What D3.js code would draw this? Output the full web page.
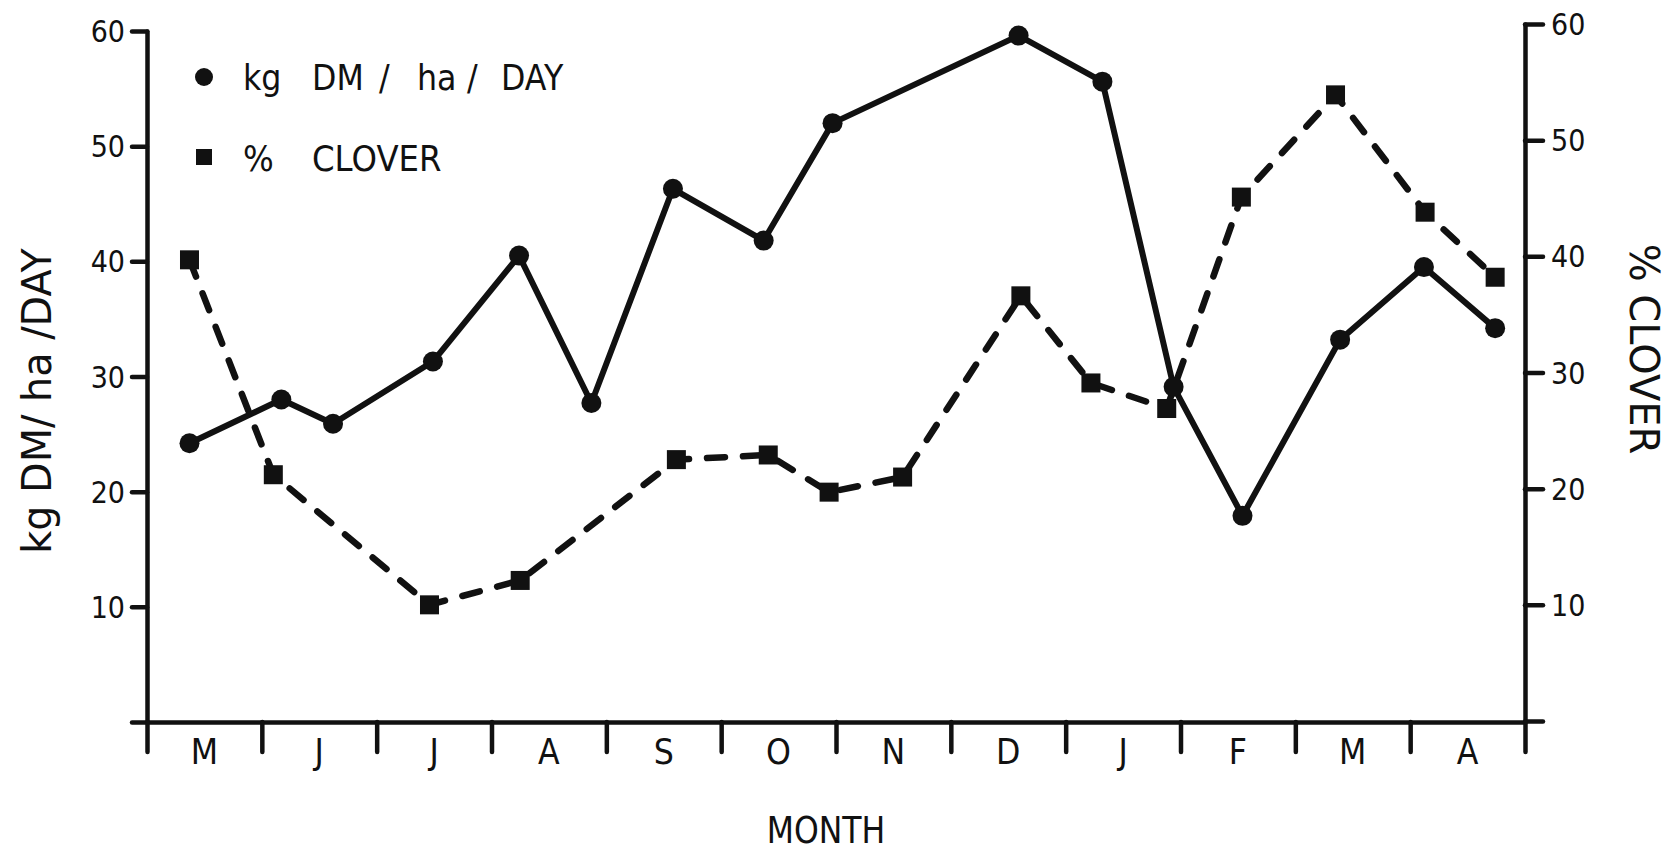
<!DOCTYPE html>
<html>
<head>
<meta charset="utf-8">
<script src="https://cdn.jsdelivr.net/npm/d3@7"></script>
<style>
  html, body { margin: 0; padding: 0; background: #fff; }
  svg { display: block; }
  text { font-family: "DejaVu Sans", sans-serif; fill: #111; }
</style>
</head>
<body>
<svg id="chart" width="1676" height="853"></svg>
<script>
// Month labels along the bottom (May through April)
const months = ["M", "J", "J", "A", "S", "O", "N", "D", "J", "F", "M", "A"];
// Tick values shared by both vertical axes
const yTickValues = [0, 10, 20, 30, 40, 50, 60];

// Pasture growth rate, kg DM / ha / day; dates in months from 1 May
const dmDates  = [0.37, 1.17, 1.62, 2.49, 3.24, 3.87, 4.58, 5.37, 5.97, 7.59, 8.32, 8.94, 9.54, 10.39, 11.12, 11.74];
const dmValues = [24.2, 28.0, 25.9, 31.3, 40.5, 27.7, 46.3, 41.8, 52.0, 59.6, 55.6, 29.1, 17.9, 33.2, 39.5, 34.2];

// Clover content of the sward, %
const cloverDates  = [0.37, 1.10, 2.46, 3.25, 4.61, 5.41, 5.94, 6.58, 7.61, 8.22, 8.88, 9.53, 10.35, 11.13, 11.74];
const cloverValues = [39.7, 21.2, 10.0, 12.1, 22.5, 22.9, 19.7, 21.0, 36.6, 29.1, 26.9, 45.1, 53.9, 43.8, 38.2];

const ink = "#111";
const svg = d3.select("#chart");

const x  = d3.scaleLinear().domain([0, 12]).range([147, 1525]);
const yL = d3.scaleLinear().domain([0, 60]).range([722, 31]);
const yR = d3.scaleLinear().domain([0, 60]).range([721, 24]);

// Place a horizontally condensed text label
function label(g, str, px, py, size, sx, anchor, rot) {
  return g.append("text")
    .attr("transform", `translate(${px},${py})` + (rot ? ` rotate(${rot})` : "") + ` scale(${sx},1)`)
    .attr("text-anchor", anchor || "start")
    .style("font-size", size + "px")
    .text(str);
}

function styleAxis(g) {
  g.select(".domain").attr("stroke", ink).attr("stroke-width", 4.5).attr("stroke-linecap", "round");
  g.selectAll(".tick line").attr("stroke", ink).attr("stroke-width", 4.5).attr("stroke-linecap", "round");
}

// Left axis
const gL = svg.append("g").attr("transform", `translate(${x(0)},0)`)
  .call(d3.axisLeft(yL).tickValues(yTickValues).tickSize(15).tickSizeOuter(0).tickFormat(""));
styleAxis(gL);
yTickValues.filter(d => d > 0).forEach(d => label(svg, d, 125, yL(d) + 11, 31, 0.87, "end"));

// Right axis
const gR = svg.append("g").attr("transform", `translate(${x(12)},0)`)
  .call(d3.axisRight(yR).tickValues(yTickValues).tickSize(18).tickSizeOuter(0).tickFormat(""));
styleAxis(gR);
yTickValues.filter(d => d > 0).forEach(d => label(svg, d, 1551, yR(d) + 11, 31, 0.87, "start"));

// Bottom axis: month boundaries
const gX = svg.append("g").attr("transform", `translate(0,${yL(0)})`)
  .call(d3.axisBottom(x).tickValues(d3.range(0, 13)).tickSize(30).tickSizeOuter(0).tickFormat(""));
styleAxis(gX);
months.forEach((m, i) => label(svg, m, x(i + 0.5), 764, 36, 0.88, "middle"));

// Axis titles
label(svg, "MONTH", 826, 843, 38, 0.83, "middle");
label(svg, "kg DM/ ha /DAY", 51, 401, 41, 0.97, "middle", -90);
label(svg, "% CLOVER", 1630, 349, 40, 1.0, "middle", 90);

// Clover series: dashed line with square markers
const cloverLine = d3.line().x((d, i) => x(cloverDates[i])).y(d => yR(d));
svg.append("path").datum(cloverValues)
  .attr("d", cloverLine)
  .attr("fill", "none").attr("stroke", ink).attr("stroke-width", 6.5)
  .attr("stroke-linecap", "round").attr("stroke-dasharray", "18 18");
svg.append("g").selectAll("rect").data(cloverValues).join("rect")
  .attr("x", (d, i) => x(cloverDates[i]) - 9.5)
  .attr("y", d => yR(d) - 9.5)
  .attr("width", 19).attr("height", 19)
  .attr("fill", ink);

// Growth series: solid line with round markers
const dmLine = d3.line().x((d, i) => x(dmDates[i])).y(d => yL(d));
svg.append("path").datum(dmValues)
  .attr("d", dmLine)
  .attr("fill", "none").attr("stroke", ink).attr("stroke-width", 6)
  .attr("stroke-linejoin", "round");
svg.append("g").selectAll("circle").data(dmValues).join("circle")
  .attr("cx", (d, i) => x(dmDates[i]))
  .attr("cy", d => yL(d))
  .attr("r", 10)
  .attr("fill", ink);

// Legend
const leg = svg.append("g");
leg.append("circle").attr("cx", 204).attr("cy", 77).attr("r", 9).attr("fill", ink);
leg.append("rect").attr("x", 196).attr("y", 149).attr("width", 16).attr("height", 16).attr("fill", ink);
[["kg", 243], ["DM", 312], ["/", 379], ["ha", 417], ["/", 467], ["DAY", 501]]
  .forEach(([t, px]) => label(leg, t, px, 90, 36, 0.88, "start"));
[["%", 243], ["CLOVER", 312]]
  .forEach(([t, px]) => label(leg, t, px, 171, 36, 0.9, "start"));
</script>
</body>
</html>
